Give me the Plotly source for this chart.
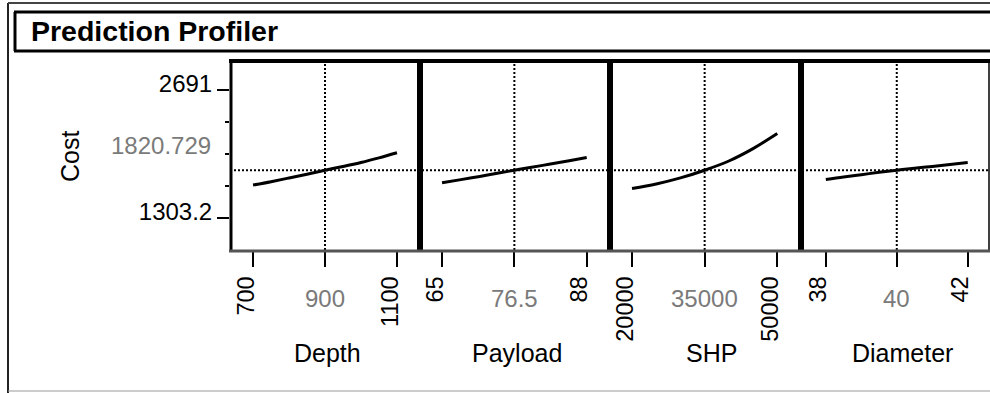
import numpy as np
import plotly.graph_objects as go

# ---------------- data ----------------
factors = ["Depth", "Payload", "SHP", "Diameter"]
response_name = "Cost"
current_cost = 1820.729
y_label_low, y_label_high = 1303.2, 2691

depth_x = [700, 750, 800, 850, 900, 950, 1000, 1050, 1100]
depth_cost = [1660, 1697, 1737, 1778, 1821, 1862, 1905, 1955, 2010]

payload_x = [65, 68, 71, 74, 76.5, 79, 82, 85, 88]
payload_cost = [1684, 1719, 1754, 1790, 1821, 1851, 1885, 1921, 1958]

shp_x = [20000, 25000, 30000, 35000, 40000, 45000, 50000]
shp_cost = [1622, 1672, 1738, 1821, 1921, 2055, 2218]

diameter_x = [38, 38.5, 39, 39.5, 40, 40.5, 41, 41.5, 42]
diameter_cost = [1720, 1748, 1773, 1798, 1821, 1842, 1862, 1883, 1904]

current_x = [900, 76.5, 35000, 40]
tick_low = [700, 65, 20000, 38]
tick_high = [1100, 88, 50000, 42]
tick_low_text = ["700", "65", "20000", "38"]
tick_high_text = ["1100", "88", "50000", "42"]
tick_mid_text = ["900", "76.5", "35000", "40"]

xs = [depth_x, payload_x, shp_x, diameter_x]
ys = [depth_cost, payload_cost, shp_cost, diameter_cost]

# ---------------- layout helpers ----------------
W, H = 990, 393
FONT = "Liberation Sans, Arial, sans-serif"


def px(x):
    return x / W


def py(y):
    return 1 - y / H


edges = [230, 420, 610, 801, 989]
x_ranges = [[636, 1164], [61.5, 91.7], [15450, 54900], [37.3, 42.6]]
y_range = [956, 3016]
top_px, bot_px = 60, 250

fig = go.Figure()
layout = dict(
    width=W, height=H,
    margin=dict(l=0, r=0, t=0, b=0),
    paper_bgcolor="white", plot_bgcolor="white",
    showlegend=False,
    font=dict(family=FONT, color="black", size=24),
)

annotations = []
shapes = []

for i in range(4):
    k = "" if i == 0 else str(i + 1)
    fig.add_trace(go.Scatter(
        x=xs[i], y=ys[i], mode="lines",
        line=dict(color="black", width=3, shape="spline"),
        xaxis="x" + k, yaxis="y" + k, hoverinfo="x+y",
    ))
    layout["xaxis" + k] = dict(
        domain=[px(edges[i]), px(edges[i + 1])],
        anchor="y" + k,
        range=x_ranges[i],
        tickmode="array",
        tickvals=[tick_low[i], current_x[i], tick_high[i]],
        ticktext=[tick_low_text[i], "", tick_high_text[i]],
        tickangle=-90,
        ticks="outside", ticklen=16, tickwidth=2, tickcolor="black",
        ticklabelshift=-7,
        tickfont=dict(size=23.5, color="black", family=FONT),
        showgrid=False, zeroline=False, showline=False,
        fixedrange=True,
    )
    ydict = dict(
        domain=[py(bot_px), py(top_px)],
        anchor="x" + k,
        range=y_range,
        showgrid=False, zeroline=False, showline=False,
        fixedrange=True,
    )
    if i == 0:
        ydict.update(
            tickmode="array",
            tickvals=[y_label_low, y_label_high],
            ticktext=[f"{y_label_low}", f"{y_label_high}"],
            ticks="outside", ticklen=12, tickwidth=2, tickcolor="black",
            ticklabelshift=-6,
            tickfont=dict(size=24, color="black", family=FONT),
            minor=dict(
                tickmode="array",
                tickvals=list(np.linspace(y_label_low, y_label_high, 5)[1:-1]),
                ticks="outside", ticklen=4, tickwidth=2, tickcolor="black",
            ),
        )
    else:
        ydict.update(showticklabels=False, ticks="")
    layout["yaxis" + k] = ydict

    # vertical dotted line at the current factor value
    shapes.append(dict(
        type="line", xref="x" + k, yref="paper",
        x0=current_x[i], x1=current_x[i], y0=py(bot_px), y1=py(top_px),
        line=dict(color="black", width=2, dash="2px,2px"),
    ))
    # gray current-value label
    annotations.append(dict(
        x=current_x[i], xref="x" + k, y=py(298), yref="paper",
        text=tick_mid_text[i], showarrow=False,
        font=dict(size=24, color="#7a7a7a", family=FONT),
        xanchor="center", yanchor="middle",
    ))

# factor names
title_centers = [327, 517, 711, 902]
for i in range(4):
    annotations.append(dict(
        x=px(title_centers[i]), xref="paper", y=py(353), yref="paper",
        text=factors[i], showarrow=False,
        font=dict(size=25, color="black", family=FONT),
        xanchor="center", yanchor="middle",
    ))

# horizontal dotted line at the current response
shapes.append(dict(
    type="line", xref="paper", yref="y",
    x0=px(edges[0]), x1=px(edges[-1]), y0=current_cost, y1=current_cost,
    line=dict(color="black", width=2, dash="2px,2px"),
))

# response label & current value
annotations.append(dict(
    x=px(70), xref="paper", y=py(157), yref="paper",
    text=response_name, showarrow=False, textangle=-90,
    font=dict(size=25, color="black", family=FONT),
    xanchor="center", yanchor="middle",
))
annotations.append(dict(
    x=px(213), xref="paper", y=py(145), yref="paper",
    text=f"{current_cost}", showarrow=False,
    font=dict(size=24, color="#7a7a7a", family=FONT),
    xanchor="right", yanchor="middle",
))

# title
annotations.append(dict(
    x=px(29), xref="paper", y=py(31), yref="paper",
    text="<b>Prediction Profiler</b>", showarrow=False,
    font=dict(size=28.5, color="black", family=FONT),
    xanchor="left", yanchor="middle",
))

# ---------------- frames ----------------
def pline(x0, y0, x1, y1, w, color="black"):
    shapes.append(dict(
        type="line", xref="paper", yref="paper",
        x0=px(x0), y0=py(y0), x1=px(x1), y1=py(y1),
        line=dict(color=color, width=w),
    ))

# outer frame
pline(8, 3, 8, 393, 2, "#222")
pline(8, 3, 990, 3, 2, "#444")
pline(8, 391, 990, 391, 1, "#999")
# title box
pline(14, 12, 990, 12, 3)
pline(14, 51, 990, 51, 3)
pline(15, 12, 15, 51, 3)
# panels
pline(229, 61, 990, 61, 4)
pline(231, 60, 231, 251, 3)
for e in edges[1:-1]:
    pline(e, 60, e, 251, 6)
pline(989, 60, 989, 251, 1.5)
pline(229, 251, 990, 251, 3, "#555")

layout["annotations"] = annotations
layout["shapes"] = shapes
fig.update_layout(**layout)
fig.write_html("out.html")
